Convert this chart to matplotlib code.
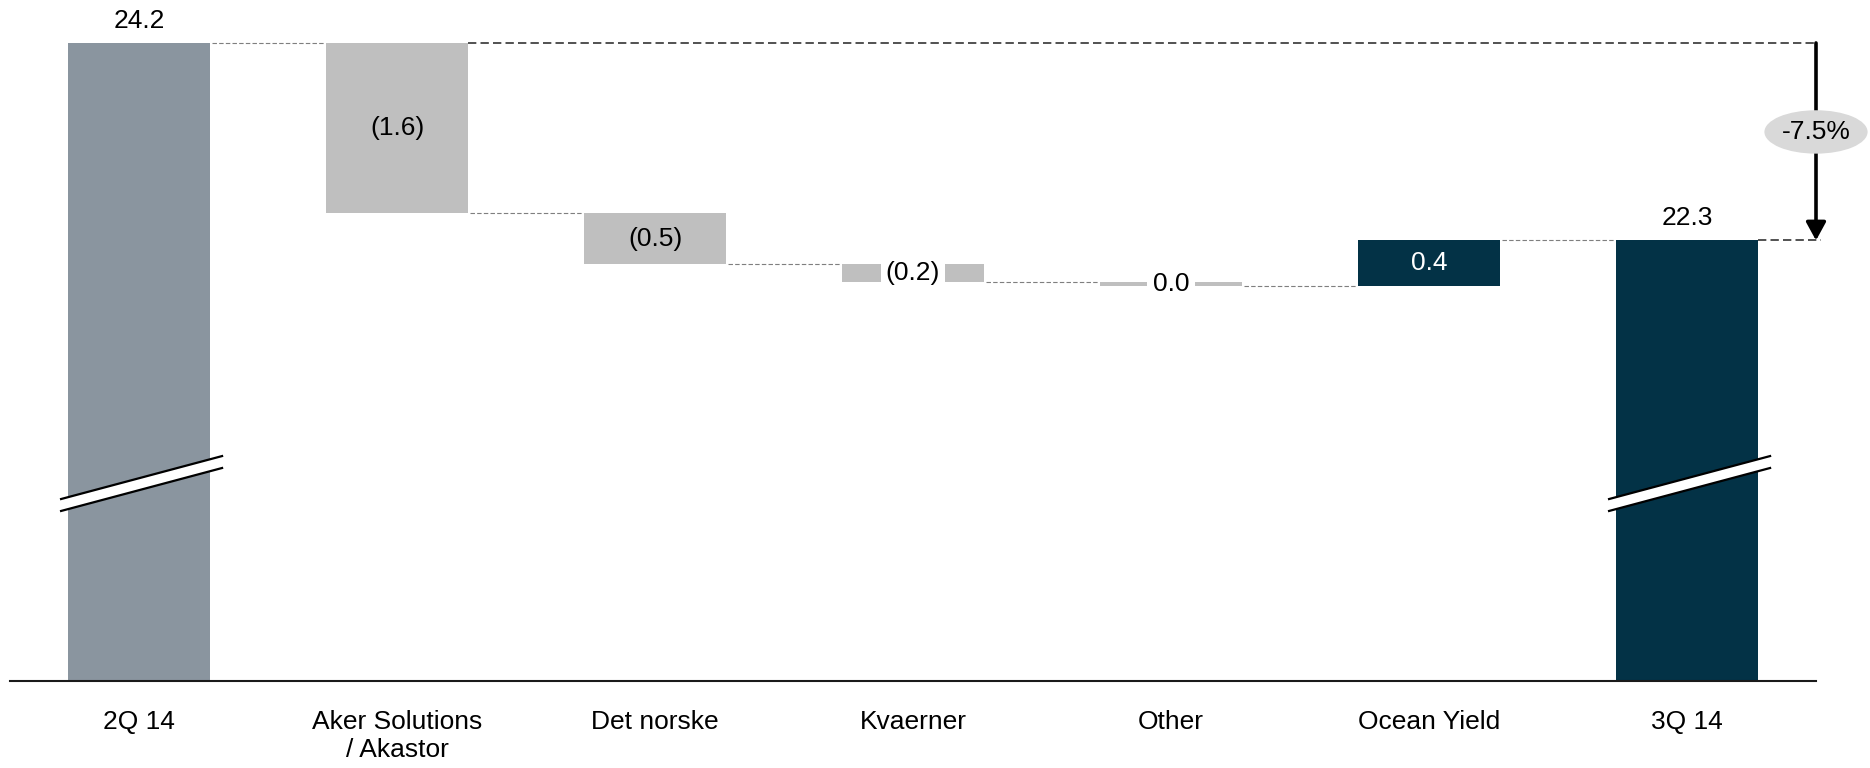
import matplotlib.pyplot as plt
from matplotlib.patches import Ellipse, Polygon

plt.rcParams['font.family'] = ['Liberation Sans', 'DejaVu Sans']

# Data
categories = ["2Q 14", "Aker Solutions\n/ Akastor", "Det norske", "Kvaerner",
              "Other", "Ocean Yield", "3Q 14"]
start_value = 24.16
changes = [-1.57, -0.47, -0.16, -0.04, 0.42]

end_value = start_value + sum(changes)
pct_change = end_value / start_value - 1

# Colours
c_start = "#8A959F"
c_neg = "#BFBFBF"
c_pos = "#033246"
c_end = "#033246"

# broken axis: bars of the totals start from y_base
y_base = 18.28
y_top = 24.556
bar_w = 0.55
fs = 19

fig = plt.figure(figsize=(18.7, 7.68), dpi=100)
ax = fig.add_axes([10 / 1870, 87 / 768, 1806 / 1870, 681 / 768])
ax.set_xlim(-0.5, 6.5)
ax.set_ylim(y_base, y_top)

# start bar
ax.bar(0, start_value - y_base, bottom=y_base, width=bar_w, color=c_start)
ax.annotate(f"{start_value:.1f}", (0, start_value), xytext=(0, 22),
            textcoords="offset pixels", ha="center", va="center", fontsize=fs)

# floating bars
level = start_value
levels = [level]
for i, d in enumerate(changes, 1):
    low = min(level, level + d)
    col = c_pos if d > 0 else c_neg
    ax.bar(i, abs(d), bottom=low, width=bar_w, color=col)
    txt = f"{abs(d):.1f}" if round(d, 1) >= 0 else f"({abs(d):.1f})"
    mid = low + abs(d) / 2
    if abs(d) < 0.3:
        ax.text(i, mid, txt, ha="center", va="center", fontsize=fs, color="black",
                bbox=dict(boxstyle="square,pad=0.2", fc="white", ec="none"))
    else:
        ax.text(i, mid, txt, ha="center", va="center", fontsize=fs,
                color="white" if d > 0 else "black")
    level += d
    levels.append(level)

# end bar
ax.bar(6, end_value - y_base, bottom=y_base, width=bar_w, color=c_end)
ax.annotate(f"{end_value:.1f}", (6, end_value), xytext=(0, 22),
            textcoords="offset pixels", ha="center", va="center", fontsize=fs)
levels.append(end_value)

# connectors
for i in range(6):
    lv = levels[i]
    if i == 5:
        lv = end_value
    x0 = i + bar_w / 2 + 0.008
    x1 = i + 1 - bar_w / 2 - 0.008
    ax.plot([x0, x1], [lv, lv], color="#7F7F7F", lw=0.8, ls=(0, (4, 2)))

# overall reference lines
ax.plot([1 + bar_w / 2, 6.5], [start_value, start_value], color="#333333",
        lw=1.2, ls=(0, (5, 2.5)), clip_on=False)
ax.plot([6 + bar_w / 2, 6.52], [end_value, end_value], color="#333333",
        lw=1.2, ls=(0, (5, 2.5)), clip_on=False)

# arrow with percentage
ax.annotate("", xy=(6.5, end_value), xytext=(6.5, start_value),
            arrowprops=dict(arrowstyle="-|>,head_length=0.55,head_width=0.3",
                            lw=2.6, color="black", mutation_scale=20,
                            shrinkA=0, shrinkB=0), annotation_clip=False)
ell = Ellipse((6.5, 23.34), 0.40, 0.40, facecolor="#D9D9D9", edgecolor="none",
              clip_on=False, zorder=5)
ax.add_patch(ell)
ax.text(6.5, 23.34, f"{pct_change * 100:.1f}%", ha="center", va="center",
        fontsize=fs, zorder=6, clip_on=False)

# axis break marks
brk_mid = 20.155
rise = 0.198
gap = 0.11
for c in (0, 6):
    xa = c - 0.302
    xb = c + 0.322
    ya = brk_mid - rise
    yb = brk_mid + rise
    poly = Polygon([(xa, ya), (xb, yb), (xb, yb - gap), (xa, ya - gap)],
                   closed=True, facecolor="white", edgecolor="none", zorder=3)
    ax.add_patch(poly)
    ax.plot([xa, xb], [ya, yb], color="black", lw=1.6, zorder=4)
    ax.plot([xa, xb], [ya - gap, yb - gap], color="black", lw=1.6, zorder=4)

# axes styling
for s in ["top", "right", "left"]:
    ax.spines[s].set_visible(False)
ax.spines["bottom"].set_linewidth(1.5)
ax.spines["bottom"].set_color("#1A1A1A")
ax.set_yticks([])
ax.set_xticks(range(7))
ax.set_xticklabels(categories, fontsize=fs)
ax.tick_params(axis="x", length=0, pad=21)

fig.savefig("out.png", dpi=100)
